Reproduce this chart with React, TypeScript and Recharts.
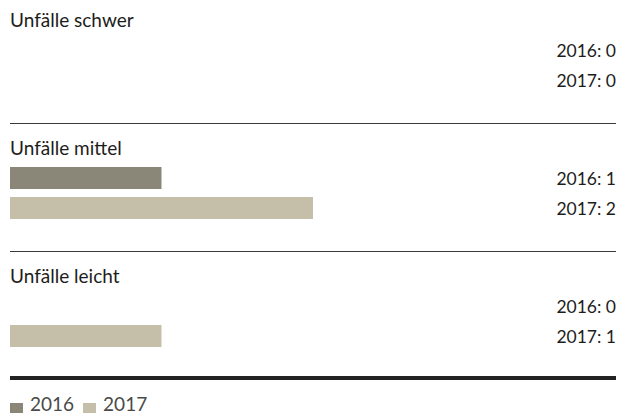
import { BarChart, Bar, XAxis, YAxis, Cell } from 'recharts'

const groups = ['Unfälle schwer', 'Unfälle mittel', 'Unfälle leicht']
const years = ['2016', '2017']
const values2016 = [0, 1, 0]
const values2017 = [0, 2, 1]
const colors = ['#8b8778', '#c5bfaa']

const font = 'Lato, "Open Sans", sans-serif'
const ink = '#1d1d1b'

function RightTick(props: any) {
  const { y, payload } = props
  return (
    <text x={616} y={y} textAnchor='end' dominantBaseline='central'
      fontFamily={font} fontSize={17.5} fill={ink}>
      {payload.value}
    </text>
  )
}

function Group({ i }: { i: number }) {
  const data = years.map((yr, j) => {
    const v = j === 0 ? values2016[i] : values2017[i]
    return { year: yr, value: v, label: `${yr}: ${v}` }
  })
  const top = i * 128
  return (
    <>
      <div style={{ position: 'absolute', left: 10, top: top + 8, fontFamily: font,
        fontSize: 19, lineHeight: '24px', color: ink }}>
        {groups[i]}
      </div>
      <div style={{ position: 'absolute', left: 0, top: top + 34.5 }}>
        <BarChart width={630} height={60} data={data} layout='vertical'
          margin={{ top: 0, right: 14, left: 10, bottom: 0 }}>
          <XAxis type='number' domain={[0, 4]} hide />
          <YAxis type='category' dataKey='label' orientation='right' mirror
            axisLine={false} tickLine={false} tick={<RightTick />} />
          <Bar dataKey='value' barSize={22} isAnimationActive={false}>
            {data.map((_, j) => <Cell key={j} fill={colors[j]} />)}
          </Bar>
        </BarChart>
      </div>
      {i < groups.length - 1 ? (
        <div style={{ position: 'absolute', left: 10, width: 606, top: top + 123,
          height: 1, background: '#3a3a3a' }} />
      ) : (
        <div style={{ position: 'absolute', left: 10, width: 606, top: top + 120,
          height: 4, background: '#222' }} />
      )}
    </>
  )
}

export default function App() {
  return (
    <div style={{ position: 'absolute', left: 0, top: 0, width: 630, height: 413,
      background: 'white', overflow: 'hidden' }}>
      {groups.map((_, i) => <Group key={i} i={i} />)}
      <div style={{ position: 'absolute', left: 10, top: 392, display: 'flex',
        alignItems: 'flex-start', fontFamily: font, fontSize: 19, lineHeight: '24px',
        color: '#4a4a48' }}>
        {years.map((yr, j) => (
          <span key={yr} style={{ display: 'flex', alignItems: 'flex-start', marginRight: 9 }}>
            <span style={{ display: 'inline-block', width: 13, height: 13,
              background: colors[j], marginRight: 7, marginTop: 11 }} />
            {yr}
          </span>
        ))}
      </div>
    </div>
  )
}
